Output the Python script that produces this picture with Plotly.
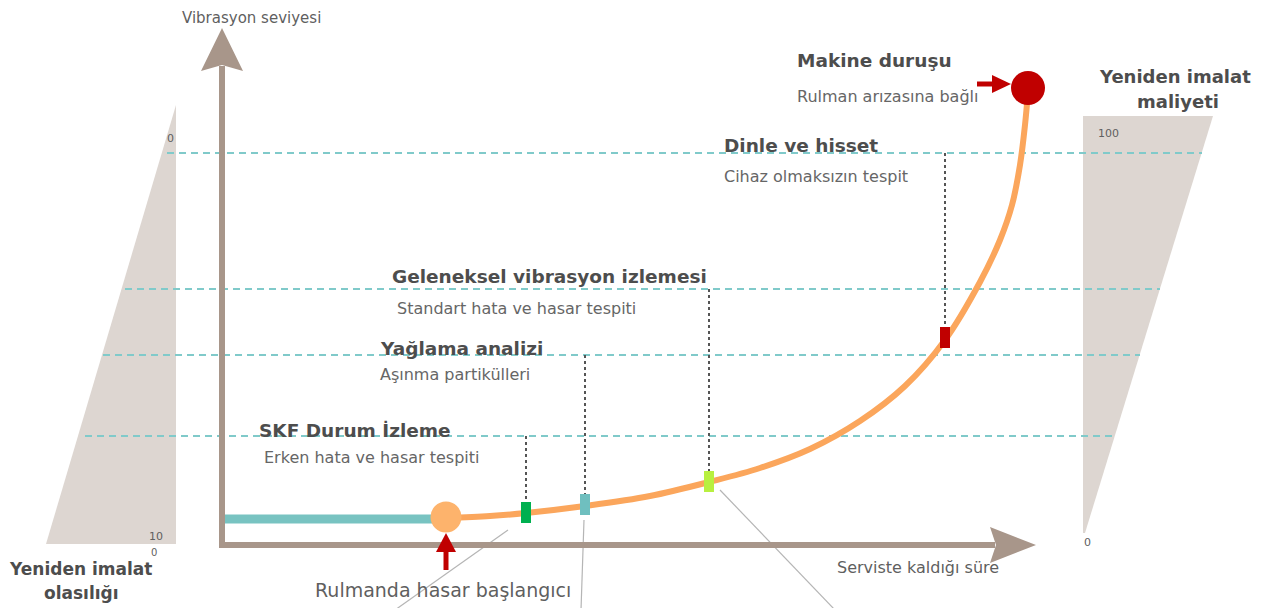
import plotly.graph_objects as go

# ---- data (diagram coordinates in px-like units) ----
base_x = [225, 440]
base_y = [519, 519]

curve_x = [446, 490, 526, 585, 650, 709, 760, 810, 860, 905, 945, 980, 1000, 1012, 1020, 1025, 1028]
curve_y = [518, 516, 513, 506, 496, 482, 468, 449, 421, 386, 340, 282, 240, 205, 165, 125, 92]

start_pt = (446, 517)
stop_pt = (1028, 88)

marker_x = [526, 585, 709, 945]
marker_y = [513, 505, 482, 338]
marker_colors = ["#00b050", "#6fbfbf", "#b8f040", "#c00000"]
marker_top = [436, 355, 289, 153]

level_y = [153, 289, 355, 436]
level_x0 = [167, 125, 103, 85]
level_x1 = [1202, 1160, 1140, 1115]

titles = ["SKF Durum İzleme", "Yağlama analizi", "Geleneksel vibrasyon izlemesi",
          "Dinle ve hisset", "Makine duruşu"]
title_x = [257, 378, 390, 722, 795]
title_y = [430, 348, 276, 145, 60]
subs = ["Erken hata ve hasar tespiti", "Aşınma partikülleri",
        "Standart hata ve hasar tespiti", "Cihaz olmaksızın tespit",
        "Rulman arızasına bağlı"]
sub_x = [262, 378, 395, 722, 795]
sub_y = [457, 374, 308, 176, 96]

leader_x0 = [508, 584, 720]
leader_y0 = [530, 520, 490]
leader_x1 = [395, 581, 835]
leader_y1 = [610, 610, 610]

left_tri_x = [176, 176, 46, 176]
left_tri_y = [105, 544, 544, 105]
right_tri_x = [1083, 1213, 1085, 1083]
right_tri_y = [116, 116, 533, 533]

FONT = "DejaVu Sans, Verdana, sans-serif"
AXC = "#a8968a"
DASH = "#80caca"

fig = go.Figure()

# triangles
fig.add_trace(go.Scatter(x=left_tri_x, y=left_tri_y, fill="toself", mode="lines",
                         line=dict(width=0), fillcolor="#ddd6d1", hoverinfo="skip"))
fig.add_trace(go.Scatter(x=right_tri_x, y=right_tri_y, fill="toself", mode="lines",
                         line=dict(width=0), fillcolor="#ddd6d1", hoverinfo="skip"))

# dashed level lines (traces so the curve sits on top)
for y, x0, x1 in zip(level_y, level_x0, level_x1):
    fig.add_trace(go.Scatter(x=[x0, x1], y=[y, y], mode="lines",
                             line=dict(color=DASH, width=2, dash="7px,5px"), hoverinfo="skip"))

# vertical dotted lines
for x, y, t in zip(marker_x, marker_y, marker_top):
    fig.add_trace(go.Scatter(x=[x, x], y=[t, y - 10], mode="lines",
                             line=dict(color="#555555", width=2, dash="3px,3px"), hoverinfo="skip"))

# leader lines
for a, b, c, d in zip(leader_x0, leader_y0, leader_x1, leader_y1):
    fig.add_trace(go.Scatter(x=[a, c], y=[b, d], mode="lines",
                             line=dict(color="#b5b5b5", width=1.2), hoverinfo="skip"))

shapes = []
# axes
shapes.append(dict(type="line", x0=222, x1=222, y0=548, y1=66, xref="x", yref="y",
                   line=dict(color=AXC, width=6)))
shapes.append(dict(type="path", path="M 222 28 L 201 71 L 222 65 L 243 71 Z",
                   xref="x", yref="y", fillcolor=AXC, line=dict(width=0)))
shapes.append(dict(type="line", x0=219, x1=995, y0=545, y1=545, xref="x", yref="y",
                   line=dict(color=AXC, width=6)))
shapes.append(dict(type="path", path="M 1036 545 L 990 527 L 996 545 L 990 563 Z",
                   xref="x", yref="y", fillcolor=AXC, line=dict(width=0)))
# red arrows
shapes.append(dict(type="line", x0=446, x1=446, y0=570, y1=550, xref="x", yref="y",
                   line=dict(color="#c00000", width=5)))
shapes.append(dict(type="path", path="M 446 533 L 436 552 L 456 552 Z",
                   xref="x", yref="y", fillcolor="#c00000", line=dict(width=0)))
shapes.append(dict(type="line", x0=977, x1=994, y0=84, y1=84, xref="x", yref="y",
                   line=dict(color="#c00000", width=5)))
shapes.append(dict(type="path", path="M 1011 84 L 992 75 L 992 93 Z",
                   xref="x", yref="y", fillcolor="#c00000", line=dict(width=0)))

# base teal line and orange curve
fig.add_trace(go.Scatter(x=base_x, y=base_y, mode="lines",
                         line=dict(color="#78c3c1", width=9), hoverinfo="skip"))
fig.add_trace(go.Scatter(x=curve_x, y=curve_y, mode="lines",
                         line=dict(color="#fba65c", width=6, shape="spline"), hoverinfo="skip"))
fig.add_trace(go.Scatter(x=[start_pt[0]], y=[start_pt[1]], mode="markers",
                         marker=dict(color="#fdb36c", size=31, line=dict(width=0)), hoverinfo="skip"))
fig.add_trace(go.Scatter(x=[stop_pt[0]], y=[stop_pt[1]], mode="markers",
                         marker=dict(color="#c00000", size=34, line=dict(width=0)), hoverinfo="skip"))

# marker rectangles on curve
for x, y, c in zip(marker_x, marker_y, marker_colors):
    shapes.append(dict(type="rect", x0=x - 5, x1=x + 5, y0=y - 11, y1=y + 10,
                       xref="x", yref="y", fillcolor=c, line=dict(width=0)))

ann = []
for t, x, y in zip(titles, title_x, title_y):
    ann.append(dict(x=x, y=y, text="<b>" + t + "</b>", showarrow=False, xanchor="left",
                    yanchor="middle", font=dict(family=FONT, size=18.5, color="#4d4d4d")))
for t, x, y in zip(subs, sub_x, sub_y):
    ann.append(dict(x=x, y=y, text=t, showarrow=False, xanchor="left",
                    yanchor="middle", font=dict(family=FONT, size=16, color="#666666")))

others = [
    ("Vibrasyon seviyesi", 180, 18, 15, "left", False),
    ("Serviste kaldığı süre", 835, 567, 16, "left", False),
    ("Rulmanda hasar başlangıcı", 313, 590, 19, "left", False),
    ("Yeniden imalat", 80, 569, 17, "center", True),
    ("olasılığı", 81, 593, 17, "center", True),
    ("Yeniden imalat", 1175, 76, 18, "center", True),
    ("maliyeti", 1178, 101, 18, "center", True),
    ("0", 170, 138, 11, "center", False),
    ("10", 156, 536, 11, "center", False),
    ("0", 154, 552, 10, "center", False),
    ("100", 1108, 133, 11, "center", False),
    ("0", 1087, 542, 11, "center", False),
]
for t, x, y, s, xa, b in others:
    ann.append(dict(x=x, y=y, text=("<b>" + t + "</b>") if b else t, showarrow=False,
                    xanchor=xa, yanchor="middle",
                    font=dict(family=FONT, size=s, color="#4d4d4d" if b else "#5f5f5f")))

# page body has an 8px margin: shift the coordinate frame so values map to window pixels
fig.update_layout(
    width=1256, height=600,
    margin=dict(l=0, r=0, t=0, b=0),
    paper_bgcolor="white", plot_bgcolor="white",
    showlegend=False,
    xaxis=dict(range=[8, 1264], visible=False, fixedrange=True),
    yaxis=dict(range=[608, 8], visible=False, fixedrange=True),
    shapes=shapes, annotations=ann,
)
fig.write_html("out.html")
